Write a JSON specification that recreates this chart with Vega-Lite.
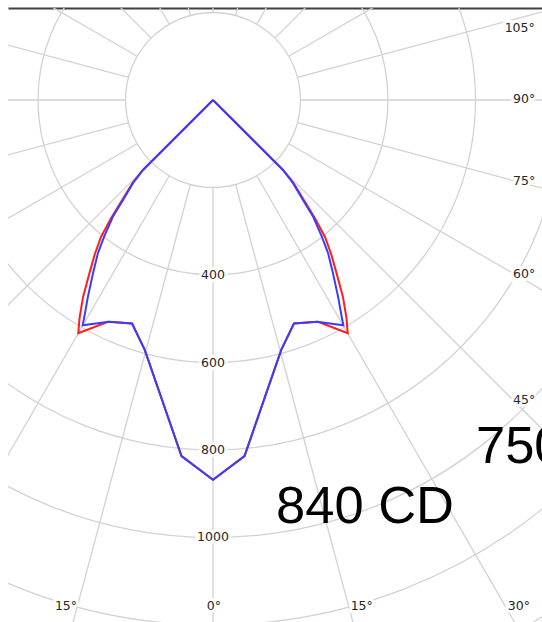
{
  "$schema": "https://vega.github.io/schema/vega-lite/v6.json",
  "autosize": {"type": "none"},
  "padding": {"left": 8, "top": 8, "right": 0, "bottom": 0},
  "width": 534,
  "height": 614,
  "background": "white",
  "config": {"view": {"stroke": null}},
  "datasets": {
    "circles": [{"r": 200}, {"r": 400}, {"r": 600}, {"r": 800}, {"r": 1000}, {"r": 1200}, {"r": 1400}],
    "spokes": [{"a": 0}, {"a": 15}, {"a": 30}, {"a": 45}, {"a": 60}, {"a": 75}, {"a": 90}, {"a": 105}, {"a": 120}, {"a": 135}, {"a": 150}, {"a": 165}, {"a": 180}, {"a": 195}, {"a": 210}, {"a": 225}, {"a": 240}, {"a": 255}, {"a": 270}, {"a": 285}, {"a": 300}, {"a": 315}, {"a": 330}, {"a": 345}],
    "curves": [
      {"plane": "C0-C180", "i": 0, "x": 0, "y": 0},
      {"plane": "C0-C180", "i": 1, "x": -160, "y": -160},
      {"plane": "C0-C180", "i": 2, "x": -184, "y": -190},
      {"plane": "C0-C180", "i": 3, "x": -208, "y": -229},
      {"plane": "C0-C180", "i": 4, "x": -233, "y": -270},
      {"plane": "C0-C180", "i": 5, "x": -256, "y": -313},
      {"plane": "C0-C180", "i": 6, "x": -270, "y": -352},
      {"plane": "C0-C180", "i": 7, "x": -283, "y": -398},
      {"plane": "C0-C180", "i": 8, "x": -297, "y": -450},
      {"plane": "C0-C180", "i": 9, "x": -305, "y": -498},
      {"plane": "C0-C180", "i": 10, "x": -308, "y": -533},
      {"plane": "C0-C180", "i": 11, "x": -240, "y": -507},
      {"plane": "C0-C180", "i": 12, "x": -185, "y": -511},
      {"plane": "C0-C180", "i": 13, "x": -156, "y": -571},
      {"plane": "C0-C180", "i": 14, "x": -72, "y": -814},
      {"plane": "C0-C180", "i": 15, "x": 0, "y": -868},
      {"plane": "C0-C180", "i": 16, "x": 72, "y": -814},
      {"plane": "C0-C180", "i": 17, "x": 156, "y": -571},
      {"plane": "C0-C180", "i": 18, "x": 185, "y": -511},
      {"plane": "C0-C180", "i": 19, "x": 240, "y": -507},
      {"plane": "C0-C180", "i": 20, "x": 308, "y": -533},
      {"plane": "C0-C180", "i": 21, "x": 305, "y": -498},
      {"plane": "C0-C180", "i": 22, "x": 297, "y": -450},
      {"plane": "C0-C180", "i": 23, "x": 283, "y": -398},
      {"plane": "C0-C180", "i": 24, "x": 270, "y": -352},
      {"plane": "C0-C180", "i": 25, "x": 256, "y": -313},
      {"plane": "C0-C180", "i": 26, "x": 233, "y": -270},
      {"plane": "C0-C180", "i": 27, "x": 208, "y": -229},
      {"plane": "C0-C180", "i": 28, "x": 184, "y": -190},
      {"plane": "C0-C180", "i": 29, "x": 160, "y": -160},
      {"plane": "C0-C180", "i": 30, "x": 0, "y": 0},
      {"plane": "C90-C270", "i": 0, "x": 0, "y": 0},
      {"plane": "C90-C270", "i": 1, "x": -160, "y": -160},
      {"plane": "C90-C270", "i": 2, "x": -183, "y": -190},
      {"plane": "C90-C270", "i": 3, "x": -206, "y": -229},
      {"plane": "C90-C270", "i": 4, "x": -229, "y": -267},
      {"plane": "C90-C270", "i": 5, "x": -249, "y": -313},
      {"plane": "C90-C270", "i": 6, "x": -263, "y": -350},
      {"plane": "C90-C270", "i": 7, "x": -274, "y": -395},
      {"plane": "C90-C270", "i": 8, "x": -286, "y": -450},
      {"plane": "C90-C270", "i": 9, "x": -294, "y": -495},
      {"plane": "C90-C270", "i": 10, "x": -298, "y": -515},
      {"plane": "C90-C270", "i": 11, "x": -238, "y": -507},
      {"plane": "C90-C270", "i": 12, "x": -185, "y": -511},
      {"plane": "C90-C270", "i": 13, "x": -156, "y": -571},
      {"plane": "C90-C270", "i": 14, "x": -72, "y": -814},
      {"plane": "C90-C270", "i": 15, "x": 0, "y": -868},
      {"plane": "C90-C270", "i": 16, "x": 72, "y": -814},
      {"plane": "C90-C270", "i": 17, "x": 156, "y": -571},
      {"plane": "C90-C270", "i": 18, "x": 185, "y": -511},
      {"plane": "C90-C270", "i": 19, "x": 238, "y": -507},
      {"plane": "C90-C270", "i": 20, "x": 298, "y": -515},
      {"plane": "C90-C270", "i": 21, "x": 294, "y": -495},
      {"plane": "C90-C270", "i": 22, "x": 286, "y": -450},
      {"plane": "C90-C270", "i": 23, "x": 274, "y": -395},
      {"plane": "C90-C270", "i": 24, "x": 263, "y": -350},
      {"plane": "C90-C270", "i": 25, "x": 249, "y": -313},
      {"plane": "C90-C270", "i": 26, "x": 229, "y": -267},
      {"plane": "C90-C270", "i": 27, "x": 206, "y": -229},
      {"plane": "C90-C270", "i": 28, "x": 183, "y": -190},
      {"plane": "C90-C270", "i": 29, "x": 160, "y": -160},
      {"plane": "C90-C270", "i": 30, "x": 0, "y": 0}
    ],
    "vlabels": [
      {"t": "400", "x": 0, "y": -400},
      {"t": "600", "x": 0, "y": -600},
      {"t": "800", "x": 0, "y": -800},
      {"t": "1000", "x": 0, "y": -1000}
    ],
    "alabels": [
      {"t": "105°", "x": 701, "y": 165},
      {"t": "90°", "x": 711, "y": 2},
      {"t": "75°", "x": 711, "y": -185},
      {"t": "60°", "x": 711, "y": -398},
      {"t": "45°", "x": 711, "y": -686},
      {"t": "30°", "x": 699, "y": -1157},
      {"t": "15°", "x": 340, "y": -1157},
      {"t": "0°", "x": 2, "y": -1157},
      {"t": "15°", "x": -336, "y": -1157}
    ],
    "big": [
      {"t": "840 CD", "x": 144, "y": -967},
      {"t": "750", "x": 601, "y": -830}
    ]
  },
  "layer": [
    {
      "data": {"name": "circles"},
      "mark": {"type": "arc", "theta": 0, "theta2": 6.2832, "filled": false, "stroke": "#d2d2d2", "strokeWidth": 1.3, "clip": true},
      "encoding": {
        "x": {"datum": 0, "type": "quantitative", "scale": {"domain": [-468.571, 752], "nice": false, "zero": false}, "axis": {"orient": "top", "domain": true, "domainColor": "#404040", "domainWidth": 2, "ticks": false, "labels": false, "grid": false, "title": null}},
        "y": {"datum": 0, "type": "quantitative", "scale": {"domain": [-1193.143, 210.286], "nice": false, "zero": false}, "axis": null},
        "radius": {"field": "r", "type": "quantitative", "stack": null, "scale": {"type": "linear", "domain": [0, 1000], "range": [0, 437.5], "zero": true, "nice": false}}
      }
    },
    {
      "data": {"name": "spokes"},
      "mark": {"type": "arc", "filled": false, "stroke": "#d2d2d2", "strokeWidth": 1.3, "clip": true},
      "encoding": {
        "x": {"datum": 0, "type": "quantitative", "scale": {"domain": [-468.571, 752], "nice": false, "zero": false}, "axis": {"orient": "top", "domain": true, "domainColor": "#404040", "domainWidth": 2, "ticks": false, "labels": false, "grid": false, "title": null}},
        "y": {"datum": 0, "type": "quantitative", "scale": {"domain": [-1193.143, 210.286], "nice": false, "zero": false}, "axis": null},
        "theta": {"field": "a", "type": "quantitative", "scale": {"domain": [0, 360], "range": [0, 6.283185307179586]}},
        "theta2": {"field": "a"},
        "radius": {"datum": 3000, "type": "quantitative", "scale": {"type": "linear", "domain": [0, 1000], "range": [0, 437.5], "zero": true, "nice": false}},
        "radius2": {"datum": 200}
      }
    },
    {
      "data": {"name": "curves"},
      "transform": [{"filter": "datum.plane === 'C0-C180'"}],
      "mark": {"type": "line", "color": "#ff1e1e", "strokeWidth": 2, "clip": true},
      "encoding": {
        "x": {"field": "x", "type": "quantitative", "scale": {"domain": [-468.571, 752], "nice": false, "zero": false}, "axis": {"orient": "top", "domain": true, "domainColor": "#404040", "domainWidth": 2, "ticks": false, "labels": false, "grid": false, "title": null}},
        "y": {"field": "y", "type": "quantitative", "scale": {"domain": [-1193.143, 210.286], "nice": false, "zero": false}, "axis": null},
        "order": {"field": "i", "type": "quantitative"}
      }
    },
    {
      "data": {"name": "curves"},
      "transform": [{"filter": "datum.plane === 'C90-C270'"}],
      "mark": {"type": "line", "color": "#3c3cff", "strokeWidth": 2, "clip": true},
      "encoding": {
        "x": {"field": "x", "type": "quantitative", "scale": {"domain": [-468.571, 752], "nice": false, "zero": false}, "axis": {"orient": "top", "domain": true, "domainColor": "#404040", "domainWidth": 2, "ticks": false, "labels": false, "grid": false, "title": null}},
        "y": {"field": "y", "type": "quantitative", "scale": {"domain": [-1193.143, 210.286], "nice": false, "zero": false}, "axis": null},
        "order": {"field": "i", "type": "quantitative"}
      }
    },
    {
      "data": {"name": "vlabels"},
      "mark": {"type": "text", "font": "DejaVu Sans", "fontSize": 12.5, "color": "white", "stroke": "white", "strokeWidth": 6, "align": "center", "baseline": "middle", "clip": true},
      "encoding": {
        "x": {"field": "x", "type": "quantitative", "scale": {"domain": [-468.571, 752], "nice": false, "zero": false}, "axis": {"orient": "top", "domain": true, "domainColor": "#404040", "domainWidth": 2, "ticks": false, "labels": false, "grid": false, "title": null}},
        "y": {"field": "y", "type": "quantitative", "scale": {"domain": [-1193.143, 210.286], "nice": false, "zero": false}, "axis": null},
        "text": {"field": "t"}
      }
    },
    {
      "data": {"name": "vlabels"},
      "mark": {"type": "text", "font": "DejaVu Sans", "fontSize": 12.5, "color": "#262626", "align": "center", "baseline": "middle", "clip": true},
      "encoding": {
        "x": {"field": "x", "type": "quantitative", "scale": {"domain": [-468.571, 752], "nice": false, "zero": false}, "axis": {"orient": "top", "domain": true, "domainColor": "#404040", "domainWidth": 2, "ticks": false, "labels": false, "grid": false, "title": null}},
        "y": {"field": "y", "type": "quantitative", "scale": {"domain": [-1193.143, 210.286], "nice": false, "zero": false}, "axis": null},
        "text": {"field": "t"}
      }
    },
    {
      "data": {"name": "alabels"},
      "mark": {"type": "text", "font": "DejaVu Sans", "fontSize": 12.5, "color": "white", "stroke": "white", "strokeWidth": 6, "align": "center", "baseline": "middle", "clip": true},
      "encoding": {
        "x": {"field": "x", "type": "quantitative", "scale": {"domain": [-468.571, 752], "nice": false, "zero": false}, "axis": {"orient": "top", "domain": true, "domainColor": "#404040", "domainWidth": 2, "ticks": false, "labels": false, "grid": false, "title": null}},
        "y": {"field": "y", "type": "quantitative", "scale": {"domain": [-1193.143, 210.286], "nice": false, "zero": false}, "axis": null},
        "text": {"field": "t"}
      }
    },
    {
      "data": {"name": "alabels"},
      "mark": {"type": "text", "font": "DejaVu Sans", "fontSize": 12.5, "color": "#262626", "align": "center", "baseline": "middle", "clip": true},
      "encoding": {
        "x": {"field": "x", "type": "quantitative", "scale": {"domain": [-468.571, 752], "nice": false, "zero": false}, "axis": {"orient": "top", "domain": true, "domainColor": "#404040", "domainWidth": 2, "ticks": false, "labels": false, "grid": false, "title": null}},
        "y": {"field": "y", "type": "quantitative", "scale": {"domain": [-1193.143, 210.286], "nice": false, "zero": false}, "axis": null},
        "text": {"field": "t"}
      }
    },
    {
      "data": {"name": "big"},
      "mark": {"type": "text", "font": "Liberation Sans", "fontSize": 52.5, "color": "black", "align": "left", "baseline": "alphabetic", "clip": true},
      "encoding": {
        "x": {"field": "x", "type": "quantitative", "scale": {"domain": [-468.571, 752], "nice": false, "zero": false}, "axis": {"orient": "top", "domain": true, "domainColor": "#404040", "domainWidth": 2, "ticks": false, "labels": false, "grid": false, "title": null}},
        "y": {"field": "y", "type": "quantitative", "scale": {"domain": [-1193.143, 210.286], "nice": false, "zero": false}, "axis": null},
        "text": {"field": "t"}
      }
    }
  ]
}
